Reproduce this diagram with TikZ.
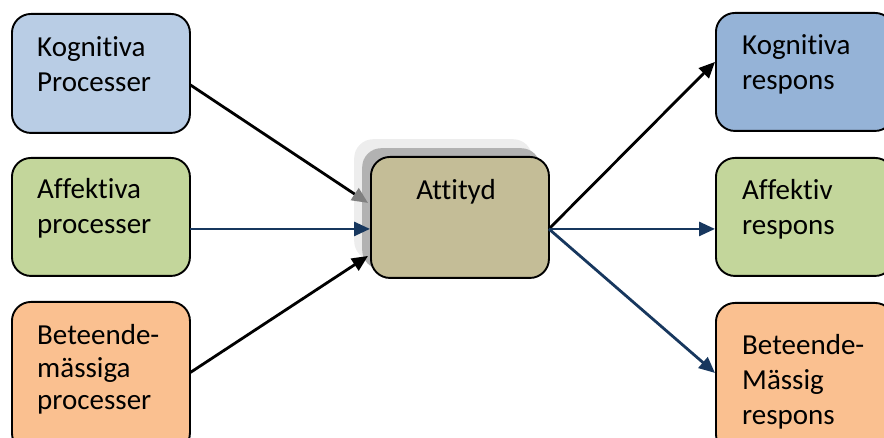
\documentclass[tikz,border=0pt]{standalone}
\usepackage{fontspec}
\setmainfont[Ligatures=NoCommon]{Carlito}
\usetikzlibrary{arrows.meta,calc}
\definecolor{kblue}{HTML}{B9CDE5}
\definecolor{kbluedark}{HTML}{95B3D7}
\definecolor{agreen}{HTML}{C3D69B}
\definecolor{borange}{HTML}{FAC090}
\definecolor{attan}{HTML}{C4BD97}
\definecolor{navyline}{HTML}{17375E}
\tikzset{
  box/.style={draw=black, line width=1.9pt, rounded corners=19pt, inner sep=0pt,
    anchor=north west, minimum width=178pt},
  shade/.style={rounded corners=19pt, inner sep=0pt, anchor=north west,
    minimum width=178pt, minimum height=121pt},
  txt/.style={inner sep=0pt, anchor=base west, font=\fontsize{29pt}{35pt}\selectfont},
  conn/.style={line width=2.8pt, -{Triangle[length=16pt,width=14pt]}},
}
\begin{document}
\begin{tikzpicture}[x=1pt,y=-1pt]
\useasboundingbox (0,0) rectangle (884,438);
\clip (0,0) rectangle (884,438);
% shadow of central box
\node[shade, fill=black!7] (attshB) at (354,139) {};
\node[shade, fill=black!30] (attshA) at (362,148) {};
% boxes
\node[box, fill=kblue, minimum height=119pt] (k1) at (11,13) {};
\node[box, fill=agreen, minimum height=118pt] (a1) at (11,157) {};
\node[box, fill=borange, minimum height=150pt] (b1) at (11,301) {};
\node[box, fill=attan, minimum height=121pt] (att) at (370,156) {};
\node[box, fill=kbluedark, minimum height=118pt] (k2) at (715,12) {};
\node[box, fill=agreen, minimum height=118pt] (a2) at (715,157) {};
\node[box, fill=borange, minimum height=150pt] (b2) at (715,302) {};
% texts
\node[txt] (k1t) at (37,57) {\parbox[t]{150pt}{Kognitiva\\Processer}};
\node[txt] (a1t) at (37,199) {\parbox[t]{150pt}{Affektiva\\processer}};
\node[txt, font=\fontsize{29pt}{32.5pt}\selectfont] (b1t) at (37,345) {\parbox[t]{150pt}{Beteende-\\mässiga\\processer}};
\node[txt, anchor=base] (attt) at (456,200) {Attityd};
\node[txt] (k2t) at (742,55) {\parbox[t]{150pt}{Kognitiva\\respons}};
\node[txt] (a2t) at (742,200) {\parbox[t]{150pt}{Affektiv\\respons}};
\node[txt] (b2t) at (742,355) {\parbox[t]{150pt}{Beteende-\\Mässig\\respons}};
% connectors in
\draw[line width=2.8pt, black, -{Triangle[length=16pt,width=14pt,color=black!50]}]
  ($(k1.east)+(-0.5,11.5)$) -- ($(att.west)+(-2,-14.5)$);
\draw[conn, navyline] ($(a1.east)+(-0.5,12)$) -- ($(att.west)+(0,11.5)$);
\draw[conn, black] ($(b1.east)+(-0.5,-4.5)$) -- ($(att.west)+(-2,38.5)$);
% connectors out
\draw[conn, black] ($(att.east)+(-1,11.5)$) -- ($(k2.west)+(0,-10)$);
\draw[conn, navyline] ($(att.east)+(-1,11.5)$) -- ($(a2.west)+(0,12)$);
\draw[conn, navyline] ($(att.east)+(-1,11.5)$) -- ($(b2.west)+(0,-5)$);
\end{tikzpicture}
\end{document}
